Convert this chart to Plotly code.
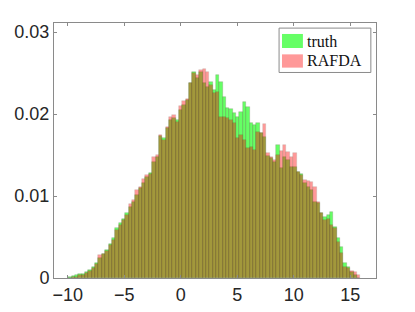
import numpy as np
import plotly.graph_objects as go

# Histogram bins
bin_start = -9.95
bin_width = 0.297
n_bins = 87

# Normalised bin heights (probability)
truth = [0.00016, 0.00024, 0.00037, 0.00045, 0.00049, 0.00069, 0.00098, 0.00138, 0.00179, 0.00240,
         0.00289, 0.00341, 0.00415, 0.00484, 0.00606, 0.00667, 0.00720, 0.00789, 0.00870, 0.00931,
         0.01012, 0.01093, 0.01154, 0.01236, 0.01276, 0.01419, 0.01480, 0.01732, 0.01703, 0.01825,
         0.01927, 0.01947, 0.01927, 0.02049, 0.02110, 0.02171, 0.02374, 0.02516, 0.02435, 0.02516,
         0.02374, 0.02333, 0.02394, 0.02293, 0.02476, 0.02394, 0.02211, 0.02069, 0.02057, 0.02008,
         0.01967, 0.02028, 0.02150, 0.02081, 0.01886, 0.01866, 0.01886, 0.01764, 0.01724, 0.01488,
         0.01459, 0.01419, 0.01622, 0.01337, 0.01480, 0.01439, 0.01358, 0.01350, 0.01297, 0.01268,
         0.01154, 0.01114, 0.01073, 0.00931, 0.00911, 0.00789, 0.00748, 0.00768, 0.00809, 0.00626,
         0.00484, 0.00382, 0.00179, 0.00138, 0.00077, 0.00037, 0.00000]

rafda = [0.00000, 0.00008, 0.00016, 0.00033, 0.00041, 0.00057, 0.00089, 0.00118, 0.00171, 0.00280,
         0.00289, 0.00333, 0.00402, 0.00463, 0.00585, 0.00646, 0.00707, 0.00768, 0.00898, 0.00951,
         0.01073, 0.01114, 0.01203, 0.01256, 0.01268, 0.01480, 0.01500, 0.01744, 0.01683, 0.01846,
         0.01967, 0.01988, 0.01907, 0.02098, 0.02159, 0.02179, 0.02374, 0.02504, 0.02476, 0.02537,
         0.02545, 0.02516, 0.02354, 0.02252, 0.02272, 0.01967, 0.01967, 0.01947, 0.01927, 0.01886,
         0.01703, 0.01744, 0.01683, 0.01581, 0.01602, 0.01561, 0.01785, 0.01764, 0.01878, 0.01520,
         0.01472, 0.01439, 0.01500, 0.01553, 0.01622, 0.01541, 0.01472, 0.01520, 0.01297, 0.01256,
         0.01195, 0.01187, 0.01175, 0.01114, 0.00931, 0.00789, 0.00707, 0.00715, 0.00646, 0.00606,
         0.00443, 0.00301, 0.00138, 0.00118, 0.00089, 0.00077, 0.00037]

series_names = ["truth", "RAFDA"]
x_ticks = [-10, -5, 0, 5, 10, 15]
y_ticks = [0, 0.01, 0.02, 0.03]
y_tick_labels = ["0", "0.01", "0.02", "0.03"]

centers = bin_start + bin_width * (np.arange(n_bins) + 0.5)

fig = go.Figure()
fig.add_trace(go.Bar(
    x=centers, y=truth, width=bin_width, name=series_names[0],
    marker=dict(color="rgb(0,255,0)", opacity=0.6,
                line=dict(color="rgba(40,40,0,0.45)", width=0.6)),
    showlegend=False, hoverinfo="skip",
))
fig.add_trace(go.Bar(
    x=centers, y=rafda, width=bin_width, name=series_names[1],
    marker=dict(color="rgb(255,0,0)", opacity=0.4,
                line=dict(color="rgba(40,40,0,0.45)", width=0.6)),
    showlegend=False, hoverinfo="skip",
))

axis_color = "#8a8a8a"
fig.update_layout(
    width=415, height=312,
    margin=dict(l=54, r=39, t=23, b=34, autoexpand=False),
    paper_bgcolor="white", plot_bgcolor="white",
    barmode="overlay", bargap=0,
    font=dict(family="Liberation Sans, Arial, sans-serif", size=18, color="#262626"),
    xaxis=dict(range=[-11.21, 17.28], tickvals=x_ticks, ticks="inside", ticklen=3,
               tickcolor=axis_color, showline=True, linecolor=axis_color, linewidth=1,
               mirror="ticks", showgrid=False, zeroline=False, automargin=False),
    yaxis=dict(range=[0, 0.0311], tickvals=y_ticks, ticktext=y_tick_labels,
               ticks="inside", ticklen=3, tickcolor=axis_color, showline=True,
               linecolor=axis_color, linewidth=1, mirror="ticks", showgrid=False,
               zeroline=False, automargin=False),
)

# Legend drawn as in the reference (large swatches, serif text)
shapes = [
    dict(type="rect", xref="paper", yref="paper", x0=0.699, x1=0.984, y0=0.806, y1=0.980,
         line=dict(color=axis_color, width=1), fillcolor="white", layer="above"),
    dict(type="rect", xref="paper", yref="paper", x0=0.708, x1=0.773, y0=0.902, y1=0.957,
         line=dict(width=0), fillcolor="#66FF66", layer="above"),
    dict(type="rect", xref="paper", yref="paper", x0=0.708, x1=0.773, y0=0.825, y1=0.877,
         line=dict(width=0), fillcolor="#FF9999", layer="above"),
]
fig.update_layout(shapes=shapes)
for name, yc in zip(series_names, [0.929, 0.851]):
    fig.add_annotation(xref="paper", yref="paper", x=0.781, y=yc, text=name,
                       showarrow=False, xanchor="left", yanchor="middle",
                       font=dict(family="Liberation Serif, Times New Roman, serif",
                                 size=16, color="#111111"))

fig.write_html("out.html", config={"displayModeBar": False},
               post_script="document.body.style.margin='0';")
